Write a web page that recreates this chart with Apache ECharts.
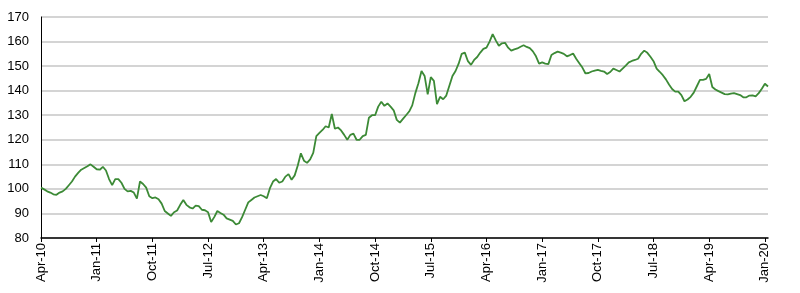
<!DOCTYPE html>
<html>
<head>
<meta charset="utf-8">
<script src="https://cdn.jsdelivr.net/npm/echarts@6/dist/echarts.min.js"></script>
<style>
html,body{margin:0;padding:0;background:#fff;}
#chart{width:800px;height:293px;}
</style>
</head>
<body>
<div id="chart"></div>
<script>
// Half-monthly observations from 1 Apr 2010 to mid Jan 2020
const startYear = 2010;
const startMonth = 4; // April
const values = [
  100.5, 99.8, 99.0, 98.5, 97.8, 97.6, 98.5, 99.0, 100.0, 101.5,
  103.0, 105.0, 106.5, 107.8, 108.5, 109.2, 110.0, 109.0, 108.0, 107.8,
  109.0, 107.5, 104.0, 101.5, 104.0, 104.0, 102.5, 100.0, 99.0, 99.2,
  98.5, 96.0, 103.0, 102.0, 100.5, 97.0, 96.2, 96.5, 95.8, 94.0,
  91.0, 90.0, 89.0, 90.5, 91.2, 93.5, 95.5, 93.5, 92.5, 92.0,
  93.2, 93.0, 91.5, 91.3, 90.5, 86.5, 88.5, 91.0, 90.2, 89.5,
  88.0, 87.5, 87.0, 85.5, 86.0, 88.5, 91.5, 94.5, 95.5, 96.5,
  97.0, 97.5, 97.0, 96.2, 100.3, 103.0, 104.0, 102.5, 103.0, 105.0,
  106.0, 103.7, 105.5, 109.5, 114.5, 111.5, 110.6, 112.0, 114.7, 121.5,
  122.8, 124.0, 125.5, 125.0, 130.5, 124.5, 125.0, 123.8, 122.0, 120.0,
  122.0, 122.5, 120.0, 120.0, 121.5, 122.0, 129.0, 130.0, 130.0, 133.5,
  135.5, 133.8, 134.8, 133.5, 132.0, 128.1, 127.0, 128.5, 130.0, 131.5,
  134.0, 139.0, 143.0, 148.0, 146.0, 138.5, 145.5, 144.0, 134.5, 137.5,
  136.5, 138.0, 142.0, 146.0, 148.0, 151.0, 155.0, 155.5, 152.0, 150.5,
  152.5, 153.7, 155.5, 157.0, 157.5, 160.0, 163.0, 160.5, 158.3, 159.3,
  159.5, 157.5, 156.3, 156.8, 157.2, 157.9, 158.5, 157.8, 157.3, 156.0,
  154.0, 151.0, 151.5, 151.0, 150.8, 154.5, 155.3, 155.9, 155.5, 155.0,
  154.0, 154.5, 155.1, 153.0, 151.2, 149.4, 147.0, 147.2, 147.8, 148.2,
  148.5, 148.1, 147.8, 146.8, 147.6, 149.0, 148.4, 147.8, 149.0, 150.2,
  151.5, 152.1, 152.5, 153.0, 155.0, 156.3, 155.4, 153.8, 152.0, 149.0,
  147.7, 146.3, 144.6, 142.5, 140.7, 139.6, 139.6, 138.2, 135.7, 136.4,
  137.5, 139.2, 141.8, 144.4, 144.4, 144.8, 146.8, 141.5, 140.5, 139.8,
  139.2, 138.6, 138.5, 138.8, 139.0, 138.6, 138.2, 137.3, 137.3, 138.0,
  138.1, 137.7, 139.0, 140.8, 142.8, 141.7
];
const tickLabels = ['Apr-10','Jan-11','Oct-11','Jul-12','Apr-13','Jan-14','Oct-14',
  'Jul-15','Apr-16','Jan-17','Oct-17','Jul-18','Apr-19','Jan-20'];
const tickStep = 18; // 9 months of half-month observations
const yMin = 80, yMax = 170, yStep = 10;

const categories = [];
for (let i = 0; i < values.length; i++) {
  const m = startMonth - 1 + Math.floor(i / 2);
  const y = startYear + Math.floor(m / 12);
  const mm = (m % 12) + 1;
  categories.push(y + '-' + String(mm).padStart(2, '0') + (i % 2 === 0 ? '-01' : '-16'));
}

const chart = echarts.init(document.getElementById('chart'), null, {renderer: 'canvas'});
chart.setOption({
  animation: false,
  backgroundColor: '#ffffff',
  grid: {left: 41, right: 32, top: 17, bottom: 55, containLabel: false},
  xAxis: {
    type: 'category',
    data: categories,
    boundaryGap: false,
    axisLine: {show: true, lineStyle: {color: '#000000', width: 1.5}},
    axisTick: {
      show: true, length: 4, alignWithLabel: true,
      interval: function (idx) { return idx % tickStep === 0; },
      lineStyle: {color: '#000000', width: 1}
    },
    axisLabel: {
      rotate: 90,
      margin: 5,
      interval: function (idx) { return idx % tickStep === 0; },
      formatter: function (val, idx) { return tickLabels[Math.round(idx / tickStep)] || ''; },
      color: '#000000',
      fontFamily: 'Liberation Sans, Arial, sans-serif',
      fontSize: 13
    },
    splitLine: {show: false}
  },
  yAxis: {
    type: 'value',
    min: yMin, max: yMax, interval: yStep,
    axisLine: {show: true, lineStyle: {color: '#000000', width: 1}},
    axisTick: {show: false},
    axisLabel: {
      color: '#000000', fontFamily: 'Liberation Sans, Arial, sans-serif',
      fontSize: 13, margin: 12
    },
    splitLine: {show: true, lineStyle: {color: '#c6c6c6', width: 1.5}}
  },
  series: [{
    type: 'line',
    data: values,
    showSymbol: false,
    symbol: 'none',
    smooth: false,
    lineStyle: {color: '#3c8a36', width: 1.8},
    z: 3
  }]
});
</script>
</body>
</html>
